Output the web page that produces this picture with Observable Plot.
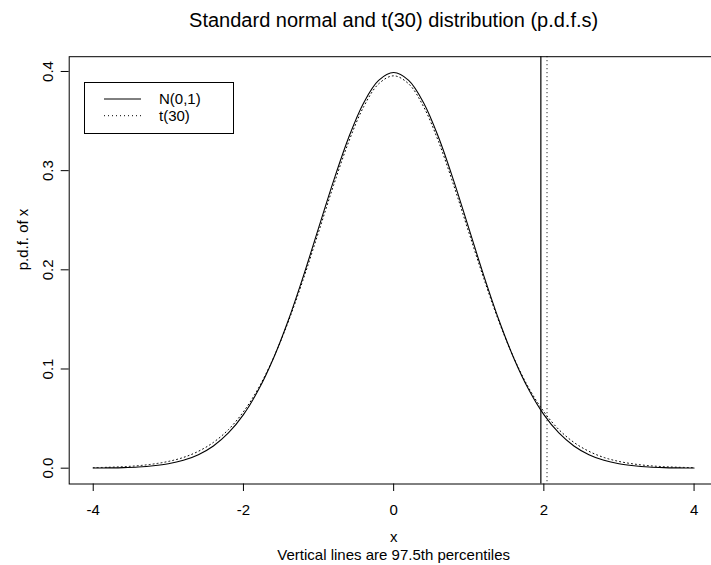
<!DOCTYPE html>
<html>
<head>
<meta charset="utf-8">
<script src="https://cdn.jsdelivr.net/npm/d3@7"></script>
<script src="https://cdn.jsdelivr.net/npm/@observablehq/plot@0.6"></script>
<style>
  html, body { margin: 0; padding: 0; background: #fff; overflow: hidden; }
  #wrap { position: relative; width: 711px; height: 565px; font-family: "Liberation Sans", Arial, Helvetica, sans-serif; }
  #legend { position: absolute; left: 84px; top: 82px; width: 150px; height: 52px; border: 1px solid #000; box-sizing: border-box; background: #fff; }
  #legend svg { position: absolute; left: 0; top: 0; }
</style>
</head>
<body>
<div id="wrap"></div>
<script>
// x grid (every 0.2)
const xs = [-4.0,-3.8,-3.6,-3.4,-3.2,-3.0,-2.8,-2.6,-2.4,-2.2,-2.0,-1.8,-1.6,-1.4,-1.2,-1.0,-0.8,-0.6,-0.4,-0.2,0.0,
            0.2,0.4,0.6,0.8,1.0,1.2,1.4,1.6,1.8,2.0,2.2,2.4,2.6,2.8,3.0,3.2,3.4,3.6,3.8,4.0];
// N(0,1) density values
const normalPdf = [0.0001,0.0003,0.0006,0.0012,0.0024,0.0044,0.0079,0.0136,0.0224,0.0355,0.0540,0.0790,0.1109,0.1497,0.1942,0.2420,0.2897,0.3332,0.3683,0.3910,0.3989,
                   0.3910,0.3683,0.3332,0.2897,0.2420,0.1942,0.1497,0.1109,0.0790,0.0540,0.0355,0.0224,0.0136,0.0079,0.0044,0.0024,0.0012,0.0006,0.0003,0.0001];
// t(30) density values
const t30Pdf = [0.0005,0.0009,0.0015,0.0025,0.0042,0.0068,0.0108,0.0170,0.0260,0.0389,0.0569,0.0807,0.1112,0.1483,0.1913,0.2380,0.2852,0.3288,0.3643,0.3875,0.3956,
                0.3875,0.3643,0.3288,0.2852,0.2380,0.1913,0.1483,0.1112,0.0807,0.0569,0.0389,0.0260,0.0170,0.0108,0.0068,0.0042,0.0025,0.0015,0.0009,0.0005];
// 97.5th percentiles
const percentiles = [{name: "N(0,1)", q: 1.96}, {name: "t(30)", q: 2.042}];
const xTicks = [-4, -2, 0, 2, 4];
const yTicks = [0.0, 0.1, 0.2, 0.3, 0.4];
const seriesNames = ["N(0,1)", "t(30)"];
const titleText = "Standard normal and t(30) distribution (p.d.f.s)";
const xLabel = "x";
const subText = "Vertical lines are 97.5th percentiles";
const yLabel = "p.d.f. of x";

const normalData = xs.map((x, i) => ({x, y: normalPdf[i]}));
const tData = xs.map((x, i) => ({x, y: t30Pdf[i]}));

const font = "'Liberation Sans', Arial, Helvetica, sans-serif";
const fs = 15;

const chart = Plot.plot({
  width: 711,
  height: 565,
  marginLeft: 68.7,
  marginRight: -6.6,
  marginTop: 56.2,
  marginBottom: 81.5,
  style: {fontFamily: font, fontSize: fs + "px", color: "#000", background: "#fff", overflow: "visible"},
  x: {domain: [-4.32, 4.32]},
  y: {domain: [-0.01596, 0.4149]},
  marks: [
    Plot.frame({stroke: "#000", strokeWidth: 1}),
    Plot.axisX(xTicks, {tickSize: 7.5, tickFormat: () => "", label: null, stroke: "#000"}),
    Plot.text(xTicks, {x: d => d, text: d => String(d), frameAnchor: "bottom", dy: 26, fontSize: fs, lineAnchor: "middle", fill: "#000"}),
    Plot.axisY(yTicks, {tickSize: 8, tickFormat: () => "", label: null, stroke: "#000"}),
    Plot.text(yTicks, {y: d => d, text: d => d.toFixed(1), frameAnchor: "left", dx: -21, rotate: -90, fontSize: fs, textAnchor: "middle", lineAnchor: "middle", fill: "#000"}),
    Plot.line(tData, {x: "x", y: "y", stroke: "#000", strokeWidth: 1, strokeDasharray: "1,3", curve: "catmull-rom"}),
    Plot.line(normalData, {x: "x", y: "y", stroke: "#000", strokeWidth: 1.1, curve: "catmull-rom"}),
    Plot.ruleX([percentiles[0]], {x: "q", stroke: "#000", strokeWidth: 1.2}),
    Plot.ruleX([percentiles[1]], {x: "q", stroke: "#000", strokeWidth: 1, strokeDasharray: "1,3"}),
    Plot.text([titleText], {text: d => d, frameAnchor: "top", dy: -36, fontSize: 20, fill: "#000", lineAnchor: "middle"}),
    Plot.text([xLabel], {text: d => d, frameAnchor: "bottom", dy: 53.5, fontSize: fs, fill: "#000", lineAnchor: "middle"}),
    Plot.text([subText], {text: d => d, frameAnchor: "bottom", dy: 71, fontSize: fs, fill: "#000", lineAnchor: "middle"}),
    Plot.text([yLabel], {text: d => d, frameAnchor: "left", dx: -46, rotate: -90, fontSize: fs, fill: "#000", lineAnchor: "middle"})
  ]
});

const wrap = document.getElementById("wrap");
wrap.appendChild(chart);

// legend box
const legend = document.createElement("div");
legend.id = "legend";
wrap.appendChild(legend);
const lsvg = d3.select(legend).append("svg").attr("width", 150).attr("height", 52);
const styles = [{dash: null, y: 16}, {dash: "1,3", y: 32.7}];
seriesNames.forEach((name, i) => {
  lsvg.append("line").attr("x1", 19).attr("x2", 56).attr("y1", styles[i].y).attr("y2", styles[i].y)
    .attr("stroke", "#000").attr("stroke-width", 1).attr("stroke-dasharray", styles[i].dash);
  lsvg.append("text").attr("x", 74).attr("y", styles[i].y).attr("dy", "0.35em")
    .attr("font-family", font).attr("font-size", fs).attr("fill", "#000").text(name);
});
</script>
</body>
</html>
